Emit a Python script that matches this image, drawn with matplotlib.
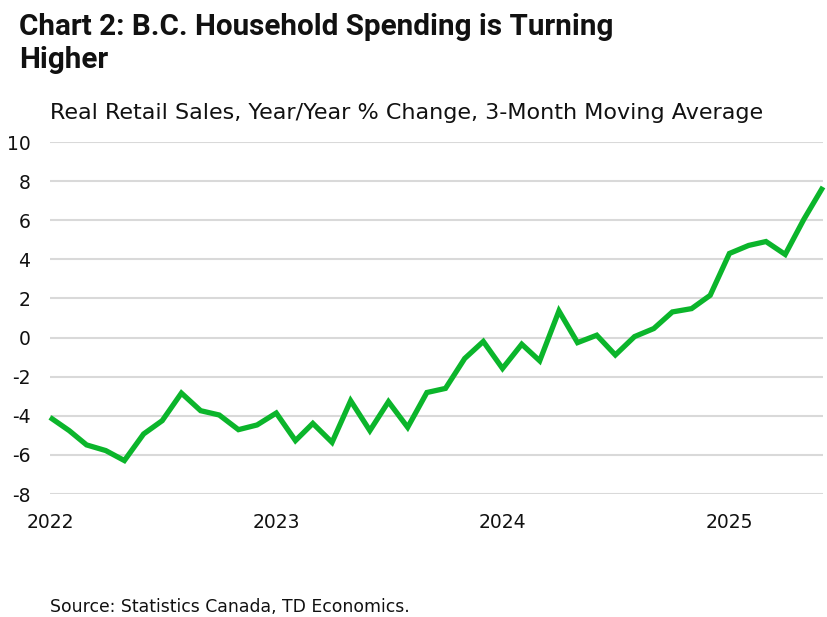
import matplotlib
matplotlib.use("Agg")
import matplotlib.pyplot as plt
import pandas as pd

# --- data ---
start_month = "2022-01-01"
sales_yoy = [
    -4.08, -4.76, -5.49, -5.78, -6.29, -4.93, -4.25, -2.84, -3.74, -3.96, -4.71, -4.47,
    -3.86, -5.27, -4.39, -5.36, -3.23, -4.76, -3.28, -4.59, -2.81, -2.60, -1.07, -0.20,
    -1.58, -0.34, -1.19, 1.36, -0.26, 0.12, -0.89, 0.05, 0.46, 1.31, 1.48, 2.16,
    4.30, 4.71, 4.91, 4.25, 6.04, 7.70,
]
year_ticks = ["2022-01-01", "2023-01-01", "2024-01-01", "2025-01-01"]
year_labels = ["2022", "2023", "2024", "2025"]
y_ticks = list(range(-8, 11, 2))

dates = pd.date_range(start_month, periods=len(sales_yoy), freq="MS")

plt.rcParams["font.family"] = ["DejaVu Sans"]
plt.rcParams["axes.unicode_minus"] = False

fig = plt.figure(figsize=(8.27, 6.17), dpi=100)
ax = fig.add_axes([50 / 827, 1 - 494 / 617, 773 / 827, 352 / 617])

ax.plot(dates, sales_yoy, color="#0BB52B", linewidth=3.8,
        solid_joinstyle="miter", solid_capstyle="butt", clip_on=False, zorder=3)

ax.set_ylim(-8, 10)
ax.set_yticks(y_ticks)
ax.set_xlim(dates[0], dates[-1])
ax.set_xticks(pd.to_datetime(year_ticks))
ax.set_xticklabels(year_labels)

ax.grid(axis="y", color="#D9D9D9", linewidth=1.5)
ax.grid(axis="x", visible=False)
ax.set_axisbelow(True)
for s in ax.spines.values():
    s.set_visible(False)
ax.tick_params(axis="both", length=0, labelsize=13.5, colors="#111111")
ax.tick_params(axis="y", pad=14)
ax.tick_params(axis="x", pad=14)

# title, two lines placed separately
title_font = dict(family=["Roboto", "DejaVu Sans"], fontsize=21.3, fontweight="bold",
                  va="center", ha="left", color="#111111")
fig.text(19 / 827, 1 - 27 / 617, "Chart 2: B.C. Household Spending is Turning", **title_font)
fig.text(19 / 827, 1 - 60 / 617, "Higher", **title_font)

fig.text(50 / 827, 1 - 113 / 617, "Real Retail Sales, Year/Year % Change, 3-Month Moving Average",
         fontsize=16, va="center", ha="left", color="#111111")
fig.text(50 / 827, 1 - 607 / 617, "Source: Statistics Canada, TD Economics.",
         fontsize=12.4, va="center", ha="left", color="#111111")

fig.savefig("out.png", dpi=100, facecolor="white")
